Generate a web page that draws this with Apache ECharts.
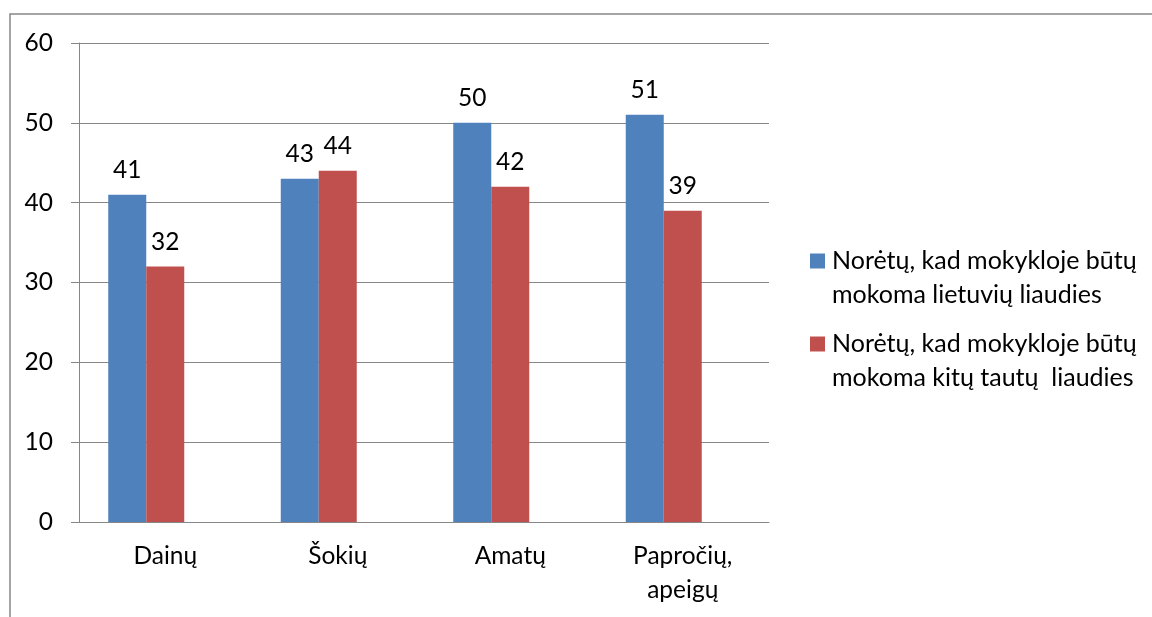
<!DOCTYPE html>
<html>
<head>
<meta charset="utf-8">
<script src="https://cdn.jsdelivr.net/npm/echarts@6/dist/echarts.min.js"></script>
<style>
  html, body { margin: 0; padding: 0; background: #fff; }
  #chart { width: 1152px; height: 617px; }
</style>
</head>
<body>
<div id="chart"></div>
<script>
// categories and values
var categories = ['Dainų', 'Šokių', 'Amatų', 'Papročių,\napeigų'];
var lietuviu = [41, 43, 50, 51];
var kituTautu = [32, 44, 42, 39];
var seriesNames = [
  'Norėtų, kad mokykloje būtų\nmokoma lietuvių liaudies',
  'Norėtų, kad mokykloje būtų\nmokoma kitų tautų  liaudies'
];
var yTicks = { min: 0, max: 60, interval: 10 };

var font = 'Lato';
var gray = '#868686';
var colors = ['#4f81bd', '#c0504d'];

var chart = echarts.init(document.getElementById('chart'));
var labelStyle = { show: true, position: 'top', distance: 12, color: '#000', fontFamily: font, fontSize: 24.5 };

chart.setOption({
  animation: false,
  graphic: [{
    type: 'rect',
    shape: { x: 10, y: 14, width: 1300, height: 800 },
    style: { fill: 'none', stroke: gray, lineWidth: 1.5 },
    silent: true
  }],
  grid: { left: 79, top: 43, right: 383, bottom: 95 },
  legend: {
    orient: 'vertical',
    left: 799,
    top: 239,
    data: seriesNames,
    icon: 'rect',
    itemWidth: 1,
    itemHeight: 1,
    itemStyle: { opacity: 0 },
    itemGap: 15,
    selectedMode: false,
    // square marker is drawn inside the text so it sits on the first line
    formatter: function (name) {
      var i = seriesNames.indexOf(name);
      var lines = name.split('\n');
      return '{s' + i + '|}{t|' + lines[0] + '}\n{p|}{t|' + lines[1] + '}';
    },
    textStyle: {
      fontFamily: font, fontSize: 25, color: '#000', lineHeight: 34,
      rich: {
        s0: { width: 15, height: 15, backgroundColor: colors[0] },
        s1: { width: 15, height: 15, backgroundColor: colors[1] },
        p: { width: 15 },
        t: { fontFamily: font, fontSize: 25, color: '#000', lineHeight: 34, padding: [0, 0, 0, 7] }
      }
    }
  },
  xAxis: {
    type: 'category',
    data: categories,
    axisLine: { lineStyle: { color: gray, width: 1 } },
    axisTick: { length: 9, lineStyle: { color: gray } },
    axisLabel: { color: '#000', fontFamily: font, fontSize: 24.5, margin: 17, lineHeight: 34 }
  },
  yAxis: {
    type: 'value',
    min: yTicks.min,
    max: yTicks.max,
    interval: yTicks.interval,
    axisLine: { show: true, lineStyle: { color: gray, width: 1 } },
    axisTick: { show: true, length: 8, lineStyle: { color: gray } },
    splitLine: { lineStyle: { color: gray, width: 1 } },
    axisLabel: { color: '#000', fontFamily: font, fontSize: 24.5, margin: 26 }
  },
  series: [
    { name: seriesNames[0], type: 'bar', data: lietuviu, barWidth: 38, barGap: '0%',
      itemStyle: { color: colors[0] }, label: labelStyle },
    { name: seriesNames[1], type: 'bar', data: kituTautu, barWidth: 38, barGap: '0%',
      itemStyle: { color: colors[1] }, label: labelStyle },
    // empty third series slot, as in the original layout
    { name: '', type: 'bar', data: [null, null, null, null], barWidth: 38, barGap: '0%' }
  ]
});
</script>
</body>
</html>
